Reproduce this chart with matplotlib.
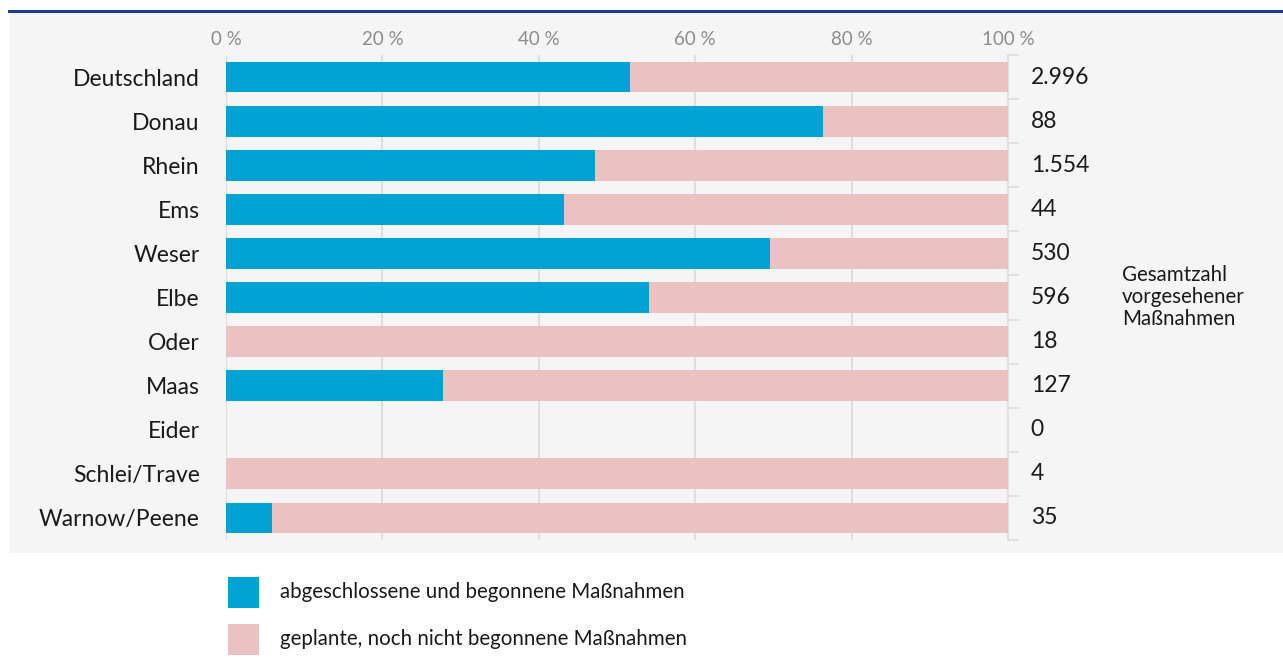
import numpy as np
import matplotlib.pyplot as plt
from matplotlib.patches import Rectangle
from matplotlib.lines import Line2D

plt.rcParams['font.family'] = ['Lato', 'DejaVu Sans']

# data
regions = ['Deutschland', 'Donau', 'Rhein', 'Ems', 'Weser', 'Elbe', 'Oder',
           'Maas', 'Eider', 'Schlei/Trave', 'Warnow/Peene']
started = [51.7, 76.3, 47.2, 43.2, 69.6, 54.1, 0, 27.7, 0, 0, 5.9]
planned = [48.3, 23.7, 52.8, 56.8, 30.4, 45.9, 100, 72.3, 0, 100, 94.1]
totals = ['2.996', '88', '1.554', '44', '530', '596', '18', '127', '0', '4', '35']
xticks = [0, 20, 40, 60, 80, 100]
xticklabels = ['0 %', '20 %', '40 %', '60 %', '80 %', '100 %']

blue = '#00a3d4'
pink = '#ebc2c2'
bg = '#f5f5f5'
grid = '#dedede'

W, H = 1283, 668
fig = plt.figure(figsize=(W / 100, H / 100), dpi=100)
fig.patch.set_facecolor('white')

# grey panel and top rule
fig.add_artist(Rectangle((9 / W, 1 - 553 / H), 1 - 9 / W, (553 - 12) / H,
                         transform=fig.transFigure, facecolor=bg, edgecolor='none', zorder=0))
fig.add_artist(Line2D([9 / W, 1], [1 - 10.5 / H, 1 - 10.5 / H], transform=fig.transFigure,
                      color='#1f3d8c', lw=2.2, zorder=1))

ax = fig.add_axes([226 / W, 1 - 540 / H, (1008 - 226) / W, (540 - 55) / H])
ax.set_facecolor('none')

y = np.arange(len(regions))
ax.barh(y, started, height=0.7, color=blue, zorder=3)
ax.barh(y, planned, left=started, height=0.7, color=pink, zorder=3)

ax.set_xlim(0, 100)
ax.set_ylim(len(regions) - 0.5, -0.5)
ax.set_xticks(xticks)
ax.set_xticklabels(xticklabels)
ax.xaxis.tick_top()
ax.tick_params(axis='x', length=0, pad=5, labelsize=13.5, labelcolor='#8c8c8c')
ax.grid(axis='x', color=grid, lw=1.5, zorder=1)

ax.set_yticks(y)
ax.set_yticklabels(regions)
ax.tick_params(axis='y', which='major', length=0, pad=19, labelsize=16.5, labelcolor='#1a1a1a')
ax.set_yticks(np.arange(len(regions) + 1) - 0.5, minor=True)
ax.tick_params(axis='y', which='minor', left=False, right=True, direction='out',
               length=8, width=1.2, color=grid)

for s in ['top', 'left', 'bottom']:
    ax.spines[s].set_visible(False)
ax.spines['right'].set_color(grid)
ax.spines['right'].set_linewidth(1.2)

for yi, t in zip(y, totals):
    ax.text(1.029, yi, t, transform=ax.get_yaxis_transform(), ha='left', va='center',
            fontsize=16.5, color='#1a1a1a')

fig.text(1122 / W, 1 - 297 / H, 'Gesamtzahl\nvorgesehener\nMaßnahmen', ha='left', va='center',
         fontsize=14.8, color='#1a1a1a', linespacing=1.15)

# legend
legend_items = [('abgeschlossene und begonnene Maßnahmen', blue, 592),
                ('geplante, noch nicht begonnene Maßnahmen', pink, 639)]
for label, c, yc in legend_items:
    fig.add_artist(Rectangle((228 / W, 1 - (yc + 15.5) / H), 31 / W, 31 / H,
                             transform=fig.transFigure, facecolor=c, edgecolor='none'))
    fig.text(280 / W, 1 - yc / H, label, ha='left', va='center', fontsize=14.8, color='#1a1a1a')

fig.savefig('out.png', dpi=100)
